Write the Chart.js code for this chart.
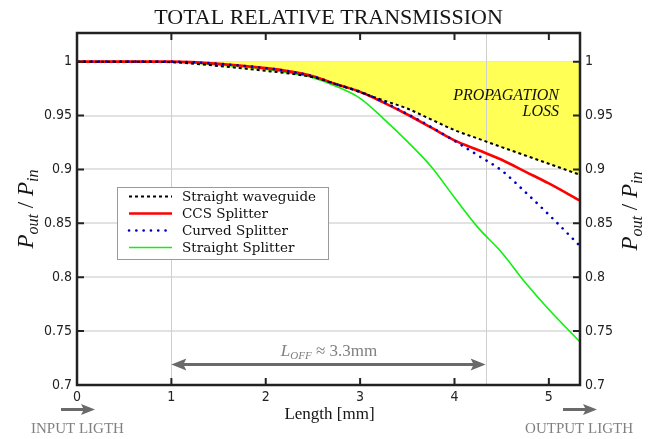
<!DOCTYPE html>
<html><head><meta charset="utf-8">
<script src="https://cdn.jsdelivr.net/npm/chart.js@4/dist/chart.umd.min.js"></script>
<style>html,body{margin:0;padding:0;background:#fff}#wrap{width:654px;height:439px}</style>
</head><body><div id="wrap"><canvas id="c" width="654" height="439"></canvas></div>
<script>
// ---- data ----
const lengthMm          = [0, 0.5, 1, 1.5, 2, 2.25, 2.5, 2.75, 3, 3.25, 3.5, 3.75, 4, 4.25, 4.5, 4.75, 5, 5.33];
const lossFreeLevel     = [1, 1, 1, 1, 1, 1, 1, 1, 1, 1, 1, 1, 1, 1, 1, 1, 1, 1];
const straightWaveguide = [1, 1, 0.9995, 0.996, 0.9915, 0.989, 0.9855, 0.979, 0.9716, 0.964, 0.9565, 0.9465, 0.9365, 0.9286, 0.9207, 0.913, 0.9053, 0.895];
const ccsSplitter       = [1, 1, 1, 0.998, 0.994, 0.991, 0.9865, 0.979, 0.972, 0.962, 0.951, 0.939, 0.927, 0.918, 0.909, 0.898, 0.887, 0.871];
const curvedSplitter    = [1, 1, 1, 0.998, 0.994, 0.991, 0.9865, 0.979, 0.9722, 0.9625, 0.9515, 0.9395, 0.9265, 0.913, 0.899, 0.879, 0.858, 0.829];
const straightSplitter  = [1, 1, 0.9998, 0.997, 0.993, 0.9895, 0.985, 0.977, 0.966, 0.947, 0.926, 0.903, 0.874, 0.846, 0.823, 0.795, 0.770, 0.740];
const seriesLabels = ['Straight waveguide', 'CCS Splitter', 'Curved Splitter', 'Straight Splitter'];
const xTickValues = [0, 1, 2, 3, 4, 5];
const yTickValues = [0.7, 0.75, 0.8, 0.85, 0.9, 0.95, 1];
const offsetMarks = [1, 4.33];
const xRange = [0, 5.33];
const yRange = [0.7, 1.0266];
const titleText = 'TOTAL RELATIVE TRANSMISSION';
const xTitleText = 'Length [mm]';
const lossText = ['PROPAGATION', 'LOSS'];
const offsetText = ['L', 'OFF', ' \u2248 3.3mm'];
const inputText = 'INPUT LIGTH';
const outputText = 'OUTPUT LIGTH';

const pts = ys => lengthMm.map((x, i) => ({x: x, y: ys[i]}));
const SERIF = "'Liberation Serif', 'Times New Roman', serif";
const TICKF = "'Liberation Sans Narrow', 'DejaVu Sans Condensed', 'Liberation Sans', sans-serif";
const GRAY = '#6a6a6a';

function drawRich(ctx, parts, cx, by, align) {
  let w = 0;
  parts.forEach(p => { ctx.font = p.font; p.w = ctx.measureText(p.t).width; w += p.w; });
  let x = align === 'left' ? cx : align === 'right' ? cx - w : cx - w / 2;
  ctx.textAlign = 'left'; ctx.textBaseline = 'alphabetic';
  parts.forEach(p => { ctx.font = p.font; ctx.fillText(p.t, x, by + (p.dy || 0)); x += p.w; });
}
function arrowHead(ctx, x, y, dir, len, half) {
  ctx.beginPath(); ctx.moveTo(x, y); ctx.lineTo(x - dir * len, y - half); ctx.lineTo(x - dir * len * 0.8, y); ctx.lineTo(x - dir * len, y + half); ctx.closePath(); ctx.fill();
}

const decor = {
  id: 'decor',
  beforeDatasetsDraw(chart) {
    const {ctx, chartArea: a, scales: {x}} = chart;
    ctx.save(); ctx.strokeStyle = '#cfcfcf'; ctx.lineWidth = 1;
    offsetMarks.forEach(v => { const px = Math.round(x.getPixelForValue(v)) + 0.5; ctx.beginPath(); ctx.moveTo(px, a.top); ctx.lineTo(px, a.bottom); ctx.stroke(); });
    ctx.restore();
  },
  afterDatasetsDraw(chart) {
    const {ctx, chartArea: a, scales: {x, y}} = chart;
    ctx.save();
    // axis box
    ctx.strokeStyle = '#222'; ctx.lineWidth = 2.5;
    ctx.strokeRect(a.left, a.top, a.right - a.left, a.bottom - a.top);
    // inward ticks
    ctx.lineWidth = 2;
    xTickValues.forEach(v => { const px = x.getPixelForValue(v); if (px <= a.left + 2) return;
      ctx.beginPath(); ctx.moveTo(px, a.bottom); ctx.lineTo(px, a.bottom - 7); ctx.moveTo(px, a.top); ctx.lineTo(px, a.top + 7); ctx.stroke(); });
    yTickValues.forEach(v => { const py = y.getPixelForValue(v); if (py >= a.bottom - 2) return;
      ctx.beginPath(); ctx.moveTo(a.left, py); ctx.lineTo(a.left + 7, py); ctx.moveTo(a.right, py); ctx.lineTo(a.right - 7, py); ctx.stroke(); });
    // legend
    const lx = 117.5, ly = 187.5, lw = 211, lh = 72;
    ctx.fillStyle = '#fff'; ctx.fillRect(lx, ly, lw, lh);
    ctx.strokeStyle = '#9a9a9a'; ctx.lineWidth = 1; ctx.strokeRect(lx, ly, lw, lh);
    const order = [1, 2, 3, 4];
    order.forEach((di, k) => {
      const ds = chart.data.datasets[di];
      const ry = 196.5 + k * 17;
      ctx.save();
      ctx.strokeStyle = ds.borderColor; ctx.lineWidth = ds.borderWidth; ctx.setLineDash(ds.borderDash || []);
      ctx.lineCap = ds.borderCapStyle || 'butt';
      ctx.beginPath(); ctx.moveTo(129, ry); ctx.lineTo(172, ry); ctx.stroke();
      ctx.restore();
      ctx.fillStyle = '#111'; ctx.font = "13.5px 'DejaVu Serif', serif"; ctx.textAlign = 'left'; ctx.textBaseline = 'middle';
      ctx.fillText(ds.label, 182, ry + 0.5);
    });
    // propagation loss
    ctx.fillStyle = '#111'; ctx.font = 'italic 16px ' + SERIF; ctx.textAlign = 'right'; ctx.textBaseline = 'alphabetic';
    ctx.fillText(lossText[0], 559, 100); ctx.fillText(lossText[1], 559, 116);
    // L_OFF double arrow
    const x1 = x.getPixelForValue(offsetMarks[0]), x2 = x.getPixelForValue(offsetMarks[1]), ay = 364.5;
    ctx.strokeStyle = GRAY; ctx.fillStyle = GRAY; ctx.lineWidth = 2.8;
    ctx.beginPath(); ctx.moveTo(x1 + 10, ay); ctx.lineTo(x2 - 10, ay); ctx.stroke();
    arrowHead(ctx, x1, ay, -1, 15, 6); arrowHead(ctx, x2, ay, 1, 15, 6);
    ctx.fillStyle = '#808080';
    drawRich(ctx, [
      {t: offsetText[0], font: 'italic 17px ' + SERIF},
      {t: offsetText[1], font: 'italic 11px ' + SERIF, dy: 3},
      {t: offsetText[2], font: '17px ' + SERIF}], 329, 356, 'center');
    ctx.restore();
  },
  afterDraw(chart) {
    const {ctx, chartArea: a} = chart;
    ctx.save();
    ctx.fillStyle = '#151515'; ctx.font = '22px ' + SERIF; ctx.textAlign = 'center'; ctx.textBaseline = 'alphabetic';
    ctx.fillText(titleText, (a.left + a.right) / 2, 24);
    ctx.font = '17px ' + SERIF; ctx.fillText(xTitleText, 329.5, 419);
    // y titles
    const yParts = () => [
      {t: 'P', font: 'italic 23px ' + SERIF},
      {t: 'out', font: 'italic 16px ' + SERIF, dy: 5},
      {t: ' / ', font: '23px ' + SERIF},
      {t: 'P', font: 'italic 23px ' + SERIF},
      {t: 'in', font: 'italic 16px ' + SERIF, dy: 5}];
    const cy = (a.top + a.bottom) / 2;
    [[33, cy], [637, cy + 2]].forEach(([cx, yy]) => {
      ctx.save(); ctx.translate(cx, yy); ctx.rotate(-Math.PI / 2); drawRich(ctx, yParts(), 0, 0, 'center'); ctx.restore();
    });
    // input / output arrows
    ctx.strokeStyle = GRAY; ctx.fillStyle = GRAY; ctx.lineWidth = 3;
    [[61, 95], [563, 597]].forEach(([s, e]) => {
      ctx.beginPath(); ctx.moveTo(s, 409.5); ctx.lineTo(e - 8, 409.5); ctx.stroke(); arrowHead(ctx, e, 409.5, 1, 14, 5.5);
    });
    ctx.fillStyle = '#808080'; ctx.font = '15px ' + SERIF; ctx.textBaseline = 'alphabetic';
    ctx.textAlign = 'left'; ctx.fillText(inputText, 31, 433);
    ctx.textAlign = 'right'; ctx.fillText(outputText, 633, 433);
    ctx.restore();
  }
};

const tickFmt = v => String(+Number(v).toFixed(2));
new Chart(document.getElementById('c'), {
  type: 'line',
  data: {
    datasets: [
      {label: 'level', data: pts(lossFreeLevel), borderWidth: 0, borderColor: 'rgba(0,0,0,0)', pointRadius: 0, fill: false, order: 9},
      {label: seriesLabels[0], data: pts(straightWaveguide), borderColor: '#000', borderWidth: 2, borderDash: [3, 3], pointRadius: 0,
       fill: {target: 0}, backgroundColor: '#ffff55', order: 1},
      {label: seriesLabels[1], data: pts(ccsSplitter), borderColor: '#ff0000', borderWidth: 2.6, pointRadius: 0, fill: false, order: 3},
      {label: seriesLabels[2], data: pts(curvedSplitter), borderColor: '#0000c8', borderWidth: 2.6, borderDash: [0.1, 7.2], borderCapStyle: 'round', pointRadius: 0, fill: false, order: 2},
      {label: seriesLabels[3], data: pts(straightSplitter), borderColor: '#11ee11', borderWidth: 1.6, pointRadius: 0, fill: false, order: 4}
    ]
  },
  options: {
    responsive: false, animation: false, devicePixelRatio: 1,
    layout: {padding: {top: 33, left: 0, right: 0, bottom: 0}},
    elements: {line: {cubicInterpolationMode: 'monotone'}},
    plugins: {legend: {display: false}, tooltip: {enabled: false}, filler: {drawTime: 'beforeDatasetsDraw'}},
    scales: {
      x: {type: 'linear', position: 'bottom', min: xRange[0], max: xRange[1],
          grid: {display: false}, border: {display: false},
          afterBuildTicks: s => { s.ticks = xTickValues.map(v => ({value: v})); },
          afterFit: s => { s.height = 54; },
          ticks: {color: '#222', font: {family: TICKF, size: 14}, padding: -4, maxRotation: 0, callback: tickFmt}},
      y: {type: 'linear', position: 'left', min: yRange[0], max: yRange[1],
          grid: {color: '#e2e2e2', lineWidth: 2, drawTicks: false}, border: {display: false},
          afterBuildTicks: s => { s.ticks = yTickValues.map(v => ({value: v})); },
          afterFit: s => { s.width = 77; },
          ticks: {color: '#222', font: {family: TICKF, size: 14}, padding: 5, callback: tickFmt}},
      y2: {type: 'linear', position: 'right', min: yRange[0], max: yRange[1],
          grid: {display: false, drawTicks: false}, border: {display: false},
          afterBuildTicks: s => { s.ticks = yTickValues.map(v => ({value: v})); },
          afterFit: s => { s.width = 74; },
          ticks: {color: '#222', font: {family: TICKF, size: 14}, padding: 5, callback: tickFmt}}
    }
  },
  plugins: [decor]
});
</script></body></html>
